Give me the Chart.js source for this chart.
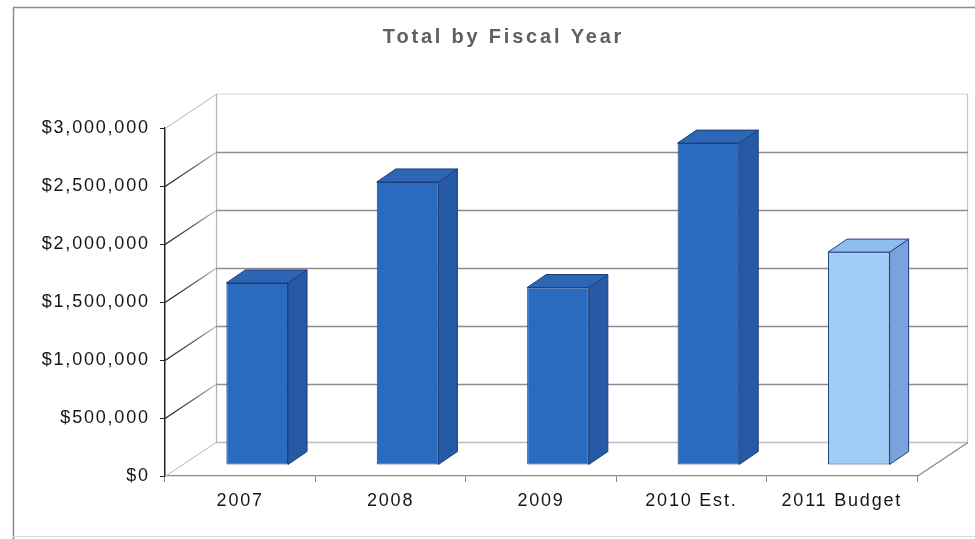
<!DOCTYPE html>
<html>
<head>
<meta charset="utf-8">
<title>Total by Fiscal Year</title>
<script src="https://cdn.jsdelivr.net/npm/chart.js@4/dist/chart.umd.min.js"></script>
<style>
  html, body { margin: 0; padding: 0; background: #ffffff; }
  #wrap { width: 975px; height: 539px; }
</style>
</head>
<body>
<div id="wrap"><canvas id="chart" width="975" height="539"></canvas></div>
<script>
// Fiscal-year totals
const categories = ['2007', '2008', '2009', '2010 Est.', '2011 Budget'];
const totals = [1570000, 2440000, 1530000, 2775000, 1835000];
const yTickValues = [0, 500000, 1000000, 1500000, 2000000, 2500000, 3000000];

// Face colours for each column (front, side, top)
const frontColors = ['#2a6bbf', '#2a6bbf', '#2a6bbf', '#2a6bbf', '#a0cdf6'];
const sideColors  = ['#2659a6', '#2659a6', '#2659a6', '#2659a6', '#7aa3de'];
const topColors   = ['#2d66b4', '#2d66b4', '#2d66b4', '#2d66b4', '#8dbdee'];
const edgeColor = '#1d3f78';

// Pseudo-3D geometry: wall depth, column offset from the front plane, column depth
const DEPTH = { x: 51, y: -34 };
const BAR_SHIFT = { x: 17, y: -11 };
const BAR_DEPTH = { x: 19, y: -13 };
const TITLE_SHIFT = 45;

function poly(ctx, pts, fill, stroke) {
  ctx.beginPath();
  ctx.moveTo(pts[0][0], pts[0][1]);
  for (let i = 1; i < pts.length; i++) ctx.lineTo(pts[i][0], pts[i][1]);
  ctx.closePath();
  ctx.fillStyle = fill;
  ctx.fill();
  if (stroke) { ctx.strokeStyle = stroke; ctx.lineWidth = 1; ctx.stroke(); }
}

function line(ctx, x0, y0, x1, y1, color, w) {
  ctx.beginPath();
  ctx.moveTo(x0, y0);
  ctx.lineTo(x1, y1);
  ctx.strokeStyle = color;
  ctx.lineWidth = w || 1;
  ctx.stroke();
}

const box3d = {
  id: 'box3d',
  beforeDraw(chart) {
    const ctx = chart.ctx;
    ctx.letterSpacing = '1.8px';
    const tb = chart.titleBlock;
    if (tb && !tb._spaced) {
      const orig = tb.draw;
      tb.draw = function () {
        const prev = ctx.letterSpacing;
        ctx.save();
        ctx.translate(TITLE_SHIFT, 0);
        ctx.letterSpacing = '2.8px';
        orig.apply(this, arguments);
        ctx.restore();
        ctx.letterSpacing = prev;
      };
      tb._spaced = true;
    }
    // outer frame
    ctx.save();
    line(ctx, 13.5, 539, 13.5, 7.5, '#8c8c8c', 1.5);
    line(ctx, 13, 7.5, 975, 7.5, '#8c8c8c', 1.5);
    line(ctx, 13, 536.5, 975, 536.5, '#dadada', 1);
    ctx.restore();
  },
  beforeDatasetsDraw(chart) {
    const { ctx, chartArea: a, scales: { y } } = chart;
    const bx0 = a.left + DEPTH.x, bx1 = a.right + DEPTH.x;
    const yTop = y.getPixelForValue(y.max), yBot = y.getPixelForValue(0);
    ctx.save();
    // back wall outline
    line(ctx, bx0, yTop + DEPTH.y, bx1, yTop + DEPTH.y, '#d6d6d6', 1.2);
    line(ctx, bx0 + 0.5, yTop + DEPTH.y, bx0 + 0.5, yBot + DEPTH.y, '#b4b4b4', 1.2);
    line(ctx, bx1 - 0.5, yTop + DEPTH.y, bx1 - 0.5, yBot + DEPTH.y, '#c4c4c4', 1.2);
    // gridlines on the back wall and the side wall
    y.ticks.forEach(t => {
      const py = Math.round(y.getPixelForValue(t.value)) + 0.5;
      const edge = (t.value === 0 || t.value === y.max);
      if (edge) {
        line(ctx, a.left, py, bx0, py + DEPTH.y, '#c8c8c8', 1.2);
      } else {
        const g = ctx.createLinearGradient(a.left, py, bx0, py + DEPTH.y);
        g.addColorStop(0, '#1e1e1e');
        g.addColorStop(0.55, '#5a5a5a');
        g.addColorStop(1, '#c2c2c2');
        line(ctx, a.left, py, bx0, py + DEPTH.y, g, 1.3);
      }
      if (t.value !== y.max) {
        line(ctx, bx0, py + DEPTH.y, bx1, py + DEPTH.y, t.value === 0 ? '#bdbdbd' : '#8e8e8e', 1.3);
      }
    });
    // floor right edge
    line(ctx, a.right, yBot + 0.5, bx1, yBot + DEPTH.y + 0.5, '#8a8a8a', 1.3);
    ctx.restore();
    // columns are drawn on a plane set back from the front of the box
    ctx.save();
    ctx.translate(BAR_SHIFT.x, BAR_SHIFT.y);
  },
  afterDatasetsDraw(chart) {
    const ctx = chart.ctx;
    ctx.restore();
    const meta = chart.getDatasetMeta(0);
    ctx.save();
    meta.data.forEach((bar, i) => {
      const p = bar.getProps(['x', 'y', 'base', 'width'], true);
      const l = p.x - p.width / 2 + BAR_SHIFT.x;
      const r = p.x + p.width / 2 + BAR_SHIFT.x;
      const t = p.y + BAR_SHIFT.y;
      const b = p.base + BAR_SHIFT.y;
      poly(ctx, [[r, t], [r + BAR_DEPTH.x, t + BAR_DEPTH.y], [r + BAR_DEPTH.x, b + BAR_DEPTH.y], [r, b]], sideColors[i], edgeColor);
      poly(ctx, [[l, t], [l + BAR_DEPTH.x, t + BAR_DEPTH.y], [r + BAR_DEPTH.x, t + BAR_DEPTH.y], [r, t]], topColors[i], edgeColor);
    });
    ctx.restore();
  }
};

const money = v => '$' + Number(v).toLocaleString('en-US');

new Chart(document.getElementById('chart'), {
  type: 'bar',
  data: {
    labels: categories,
    datasets: [{
      label: 'Total',
      data: totals,
      backgroundColor: frontColors,
      borderColor: edgeColor,
      borderWidth: 1,
      borderSkipped: false,
      barPercentage: 0.41,
      categoryPercentage: 1.0,
      clip: false
    }]
  },
  options: {
    responsive: false,
    animation: false,
    devicePixelRatio: 1,
    layout: { padding: { left: 0, right: 58, top: 0, bottom: 0 } },
    plugins: {
      legend: { display: false },
      tooltip: { enabled: false },
      title: {
        display: true,
        text: 'Total by Fiscal Year',
        color: '#606060',
        font: { family: '"Liberation Sans", Arial, sans-serif', size: 20, weight: 'bold' },
        padding: { top: 25, bottom: 79 }
      }
    },
    scales: {
      x: {
        afterFit(s) { s.height = 63; },
        border: { display: true, color: '#8a8a8a', width: 1.3 },
        grid: { drawOnChartArea: false, drawTicks: true, tickLength: 6, color: '#8a8a8a', offset: true },
        ticks: {
          color: '#151515',
          padding: 8,
          maxRotation: 0,
          font: { family: '"Liberation Sans", Arial, sans-serif', size: 18 }
        }
      },
      y: {
        min: 0,
        max: 3000000,
        afterFit(s) { s.width = 165; },
        afterBuildTicks(s) { s.ticks = yTickValues.map(v => ({ value: v })); },
        border: { display: true, color: '#222222', width: 1.5 },
        grid: { drawOnChartArea: false, drawTicks: true, tickLength: 5, color: '#222222' },
        ticks: {
          color: '#151515',
          padding: 10.2,
          callback: money,
          font: { family: '"Liberation Sans", Arial, sans-serif', size: 18 }
        }
      }
    }
  },
  plugins: [box3d]
});
</script>
</body>
</html>
